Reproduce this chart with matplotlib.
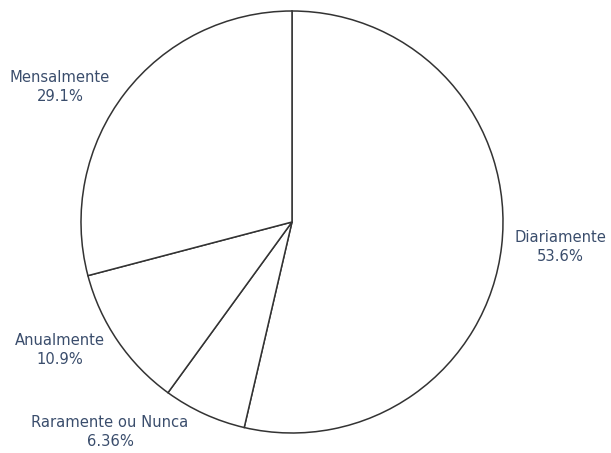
import matplotlib.pyplot as plt

labels = ['Diariamente', 'Raramente ou Nunca', 'Anualmente', 'Mensalmente']
values = [59, 7, 12, 32]

# label centres (pixels from top-left) for the outside text
label_pos = [(560, 247), (110, 432), (60, 350), (60, 87)]

W, H = 611, 453
fig = plt.figure(figsize=(W / 100, H / 100), dpi=100)
ax = fig.add_axes([0, 0, 1, 1])

cx, cy, r = 292, H - 222, 211
total = sum(values)

ax.pie(values, startangle=90, counterclock=False, center=(cx, cy), radius=r,
       wedgeprops=dict(facecolor='white', edgecolor='#333333', linewidth=1.1),
       frame=True)
ax.set_xlim(0, W)
ax.set_ylim(0, H)
ax.set_aspect('equal')
ax.axis('off')

for lab, v, (x, y) in zip(labels, values, label_pos):
    pct = 100 * v / total
    ax.text(x, H - y, f'{lab}\n{pct:.3g}%', ha='center', va='center',
            fontsize=10.6, color='#3a4d6c', linespacing=1.4)

fig.savefig('out.png', dpi=100)
